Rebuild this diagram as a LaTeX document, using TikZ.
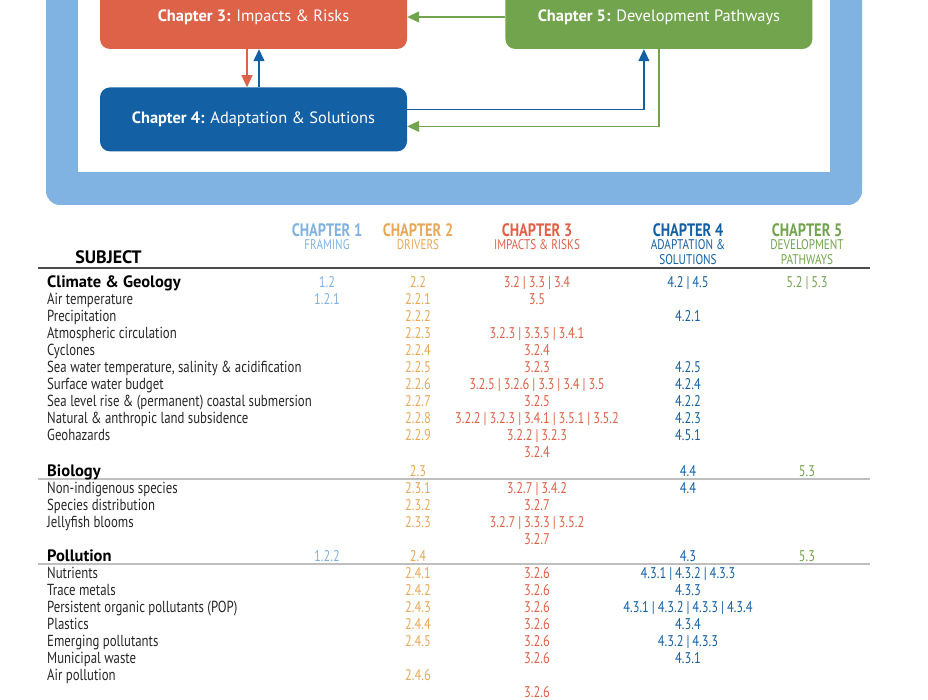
\documentclass[tikz,border=0pt]{standalone}
\usepackage{fontspec}
\setmainfont{PT Sans}[FakeStretch=0.80]
\newfontfamily\widefont{PT Sans}
\usetikzlibrary{positioning, arrows.meta}
\definecolor{chone}{HTML}{80B3E1}
\definecolor{chtwo}{HTML}{E8A857}
\definecolor{chthree}{HTML}{DE6248}
\definecolor{chfour}{HTML}{1460A5}
\definecolor{chfive}{HTML}{72A44D}
\newcommand{\sep}{\hspace{3pt}|\hspace{3pt}}
\tikzset{x=1pt, y=-1pt, % one unit is one pixel, y runs down
chapter/.style={ % Sets the properties for each chapter box
rounded corners=10pt,
minimum width=307pt, minimum height=64pt,
text=white, font=\widefont\fontsize{16.4}{19}\selectfont},
link/.style={ % Sets the properties for each connector
draw, -{Triangle[width=11pt,length=12pt]}, line width=1.3pt},
head/.style={anchor=base, inner sep=0pt, font=\fontsize{14}{16}\selectfont},
item/.style={anchor=base west, inner sep=0pt, text=black!85, font=\fontsize{16}{17}\selectfont},
cell/.style={anchor=base, inner sep=0pt, font=\fontsize{15.5}{17}\selectfont},
rule/.style={line width=1.5pt}}

\begin{document}
\begin{tikzpicture}
    \useasboundingbox (0,0) rectangle (928,700);

    % frame round the chapter boxes
    \fill[chone, rounded corners=14pt] (46,-40) rectangle (862,205);
    \fill[white] (78,-40) rectangle (830,172);

    \node[chapter, fill=chthree] (3) at (253.5,17) {\textbf{Chapter 3:} Impacts \& Risks};
    \node[chapter, fill=chfour, below=38pt of 3] (4) {\textbf{Chapter 4:} Adaptation \& Solutions};
    \node[chapter, fill=chfive, right=98pt of 3] (5) {\textbf{Chapter 5:} Development Pathways};

    \draw[link, chfive] (5) -- (3);
    \draw[link, chthree] ([xshift=-6.5pt]3.south) -- ([xshift=-6.5pt]4.north);
    \draw[link, chfour] ([xshift=5.5pt]4.north) -- ([xshift=5.5pt]3.south);
    \draw[link, chfour] ([yshift=10pt]4.east) -| ([xshift=-15pt]5.south);
    \draw[link, chfive] (5.south) |- ([yshift=-7pt]4.east);

    % table header
    \node[anchor=base, inner sep=0pt, font=\widefont\fontsize{18}{20}\selectfont\bfseries] (subject) at (108.5,263.5) {SUBJECT};
    \foreach \x/\n/\col/\sub/\subb in {327/1/chone/FRAMING/{}, 418/2/chtwo/DRIVERS/{},
        537/3/chthree/IMPACTS \& RISKS/{}, 688/4/chfour/ADAPTATION \&/SOLUTIONS, 807/5/chfive/DEVELOPMENT/PATHWAYS}
    {
        \node[anchor=base, inner sep=0pt, text=\col, font=\fontsize{18}{20}\selectfont\bfseries] (h\n) at (\x,236.5) {CHAPTER \n};
        \node[head, text=\col] (s\n) at (\x,250) {\sub};
        \node[head, text=\col] (p\n) at (\x,265) {\subb};
    }
    \draw[rule, black!70] (38,268) -- (870,268);
    \draw[rule, black!25] (38,479) -- (870,479);
    \draw[rule, black!25] (38,564) -- (870,564);

    % section rows
    \foreach \y/\t/\a/\b/\c/\d/\e [count=\i] in {
        287.5/Climate \& Geology/1.2/2.2/3.2\sep3.3\sep3.4/4.2\sep4.5/5.2\sep5.3,
        476/Biology/{}/2.3/{}/4.4/5.3,
        561.5/Pollution/1.2.2/2.4/{}/4.3/5.3}
    {
        \node[item, text=black, font=\widefont\fontsize{16.5}{17}\selectfont\bfseries] (t\i) at (47,\y) {\t};
        \node[cell, text=chone] (a\i) at (327,\y) {\a};
        \node[cell, text=chtwo] (b\i) at (418,\y) {\b};
        \node[cell, text=chthree] (c\i) at (537,\y) {\c};
        \node[cell, text=chfour] (d\i) at (688,\y) {\d};
        \node[cell, text=chfive] (e\i) at (807,\y) {\e};
    }

    % subject rows
    \foreach \y/\t/\a/\b/\c/\d [count=\i] in {
        304.5/Air temperature/1.2.1/2.2.1/3.5/{},
        321.5/Precipitation/{}/2.2.2/{}/4.2.1,
        338.5/Atmospheric circulation/{}/2.2.3/3.2.3\sep3.3.5\sep3.4.1/{},
        355.5/Cyclones/{}/2.2.4/3.2.4/{},
        372.5/{Sea water temperature, salinity \& acidification}/{}/2.2.5/3.2.3/4.2.5,
        389.5/Surface water budget/{}/2.2.6/3.2.5\sep3.2.6\sep3.3\sep3.4\sep3.5/4.2.4,
        406.5/Sea level rise \& {(permanent)} coastal submersion/{}/2.2.7/3.2.5/4.2.2,
        423.5/Natural \& anthropic land subsidence/{}/2.2.8/3.2.2\sep3.2.3\sep3.4.1\sep3.5.1\sep3.5.2/4.2.3,
        440.5/Geohazards/{}/2.2.9/3.2.2\sep3.2.3/4.5.1,
        457.5/{}/{}/{}/3.2.4/{},
        493/Non-indigenous species/{}/2.3.1/3.2.7\sep3.4.2/4.4,
        510/Species distribution/{}/2.3.2/3.2.7/{},
        527/Jellyfish blooms/{}/2.3.3/3.2.7\sep3.3.3\sep3.5.2/{},
        544/{}/{}/{}/3.2.7/{},
        578.5/Nutrients/{}/2.4.1/3.2.6/4.3.1\sep4.3.2\sep4.3.3,
        595.5/Trace metals/{}/2.4.2/3.2.6/4.3.3,
        612.5/{Persistent organic pollutants (POP)}/{}/2.4.3/3.2.6/4.3.1\sep4.3.2\sep4.3.3\sep4.3.4,
        629.5/Plastics/{}/2.4.4/3.2.6/4.3.4,
        646.5/Emerging pollutants/{}/2.4.5/3.2.6/4.3.2\sep4.3.3,
        663.5/Municipal waste/{}/{}/3.2.6/4.3.1,
        680.5/Air pollution/{}/2.4.6/{}/{},
        697.5/{}/{}/{}/3.2.6/{}}
    {
        \node[item] (u\i) at (47,\y) {\t};
        \node[cell, text=chone] (v\i) at (327,\y) {\a};
        \node[cell, text=chtwo] (w\i) at (418,\y) {\b};
        \node[cell, text=chthree] (x\i) at (537,\y) {\c};
        \node[cell, text=chfour] (z\i) at (688,\y) {\d};
    }
\end{tikzpicture}
\end{document}
